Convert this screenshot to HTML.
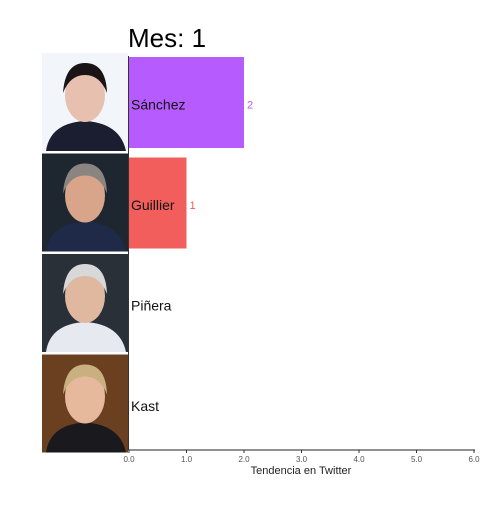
<!DOCTYPE html>
<html><head><meta charset="utf-8"><style>
body{margin:0;background:#fff;width:504px;height:504px;overflow:hidden;font-family:"Liberation Sans",sans-serif}
</style></head><body>
<svg width="504" height="504" font-family="Liberation Sans, sans-serif">
<text x="128" y="47" font-size="26" fill="#000">Mes: 1</text>
<g id="photos"></g>
<g id="bars"></g>
<line x1="128" y1="450" x2="475" y2="450" stroke="#222" stroke-width="1"/>
<line x1="128.5" y1="56" x2="128.5" y2="450" stroke="#333" stroke-width="1"/>
<g id="ticks"></g>
<text x="301" y="474" font-size="11" text-anchor="middle" fill="#222">Tendencia en Twitter</text>
</svg>
<script>
const candidates=["Sánchez","Guillier","Piñera","Kast"];
const values=[2,1,0,0];
const colors=["#b65cff","#f25e5b","#1a9aa8","#5cb82a"];
const tickValues=[0,1,2,3,4,5,6];
const tickLabels=["0.0","1.0","2.0","3.0","4.0","5.0","6.0"];
const photoBg=["#f2f6fa","#1e2630","#2a3038","#6a4020"];
const skin=["#e8c0b0","#d9a58a","#e0b8a0","#e6b89c"];
const hair=["#1a1416","#8a8580","#d8d8d8","#c8b080"];
const cloth=["#1a1e30","#1f2a48","#e6e9f0","#1a1a1e"];
const ns="http://www.w3.org/2000/svg";
const x0=129,x1=474,xmin=0,xmax=6;
const X=v=>x0+(v-xmin)/(xmax-xmin)*(x1-x0);
const bandTop=i=>57+i*100.5, bandH=91;
function mk(t,a){const e=document.createElementNS(ns,t);for(const k in a)e.setAttribute(k,a[k]);return e;}
const bars=document.getElementById('bars'),photos=document.getElementById('photos'),ticks=document.getElementById('ticks');
candidates.forEach((c,i)=>{
  const y=bandTop(i);
  const g=mk('g',{});
  
  
  const py=y-4;
  g.appendChild(mk('rect',{x:42,y:py,width:86,height:98,fill:photoBg[i]}));
  g.appendChild(mk('path',{d:`M46 ${py+98} Q50 ${py+70} 85 ${py+68} Q120 ${py+70} 126 ${py+98} Z`,fill:cloth[i]}));
  g.appendChild(mk('ellipse',{cx:85,cy:py+42,rx:20,ry:27,fill:skin[i]}));
  g.appendChild(mk('path',{d:`M63 ${py+40} Q65 ${py+10} 85 ${py+10} Q106 ${py+10} 107 ${py+40} Q100 ${py+22} 85 ${py+22} Q70 ${py+22} 63 ${py+40} Z`,fill:hair[i]}));
  photos.appendChild(g);
  const r=mk('rect',{x:X(0),y:y,width:X(values[i])-X(0),height:bandH,fill:colors[i]});
  
  
  bars.appendChild(r);
  const t=mk('text',{x:131,y:y+bandH/2+7,'font-size':14,fill:'#111'});
  t.textContent=c;
  
  
  bars.appendChild(t);
  if(values[i]>0){
    const v=mk('text',{x:X(values[i])+3,y:y+bandH/2+6,'font-size':11,fill:colors[i]});
    v.textContent=values[i];
    
    
    bars.appendChild(v);
  }
});
tickValues.forEach((v,i)=>{
  const x=X(v);
  const l=mk('line',{x1:x,y1:450,x2:x,y2:453,stroke:'#333'});
  
  
  ticks.appendChild(l);
  const t=mk('text',{x:x,y:462,'font-size':8,'text-anchor':'middle',fill:'#555'});
  t.textContent=tickLabels[i];
  
  
  ticks.appendChild(t);
});
</script>
</body></html>
